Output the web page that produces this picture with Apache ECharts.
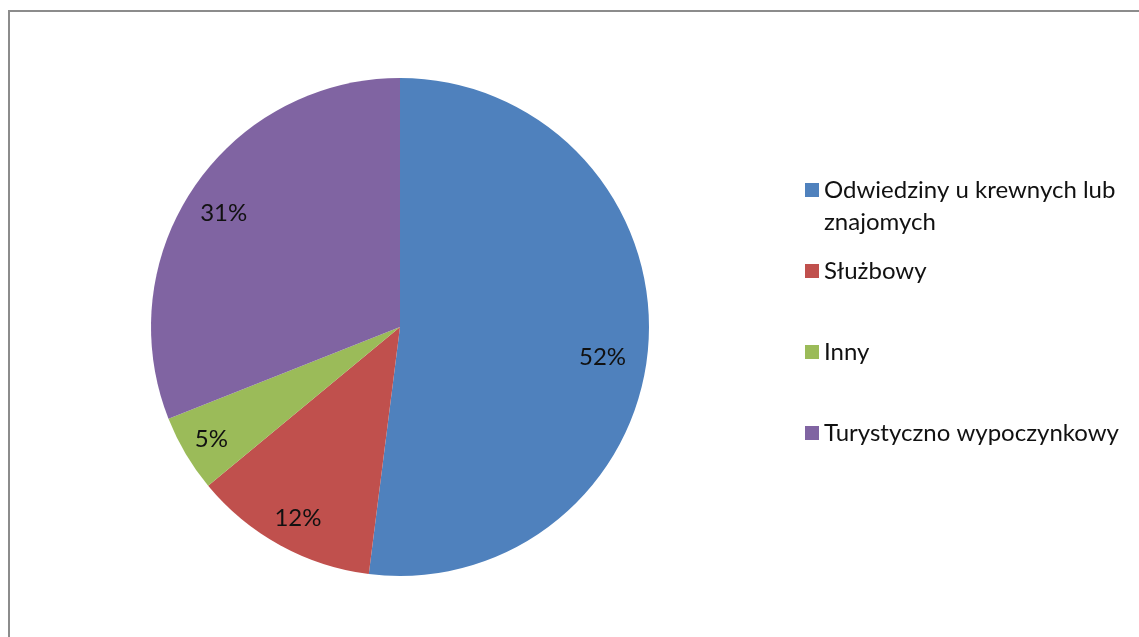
<!DOCTYPE html>
<html lang="pl">
<head>
  <meta charset="UTF-8">
  <title>Cel wyjazdu</title>
  <script src="https://cdn.jsdelivr.net/npm/echarts@6/dist/echarts.min.js"></script>
  <style>
    html, body { margin: 0; padding: 0; background: #fff; }
  </style>
</head>
<body>
    <div id="main" style="width: 1139px;height:637px;"></div>
    <script type="text/javascript">
        // dane wykresu
        var kategorie = ['Odwiedziny u krewnych lub znajomych', 'Służbowy', 'Inny', 'Turystyczno wypoczynkowy'];
        var wartosci = [52, 12, 5, 31];
        var kolory = ['#4F81BD', '#C0504D', '#9BBB59', '#8064A2'];

        var dane = [];
        var etykiety = [];
        var przesuniecia = [[-15, 17], [3, 0], [-1, 1], [4, 9]];
        for (var i = 0; i < kategorie.length; i++) {
            dane.push({ name: kategorie[i], value: wartosci[i], itemStyle: { color: kolory[i] } });
            etykiety.push({ name: kategorie[i], value: wartosci[i], label: { offset: przesuniecia[i] } });
        }

        var font = 'Lato, "Open Sans", sans-serif';
        var myChart = echarts.init(document.getElementById('main'));

        var option = {
            animation: false,
            backgroundColor: '#fff',
            graphic: [{
                type: 'rect',
                shape: { x: 9, y: 11, width: 1300, height: 800 },
                style: { fill: 'none', stroke: '#8c8c8c', lineWidth: 2 },
                silent: true
            }],
            legend: [{
                orient: 'vertical',
                left: 805,
                top: 146,
                padding: 0,
                itemWidth: 14,
                itemHeight: 14,
                icon: 'rect',
                data: [kategorie[0]],
                // pierwsza pozycja w dwóch wierszach, kwadrat przy pierwszym wierszu
                formatter: function () {
                    return '{s| }\n{a|Odwiedziny u krewnych lub}\n{a|znajomych}';
                },
                textStyle: {
                    fontFamily: font, fontSize: 24, color: '#111',
                    rich: {
                        s: { fontSize: 24, lineHeight: 32 },
                        a: { fontFamily: font, fontSize: 24, color: '#111', lineHeight: 32 }
                    }
                }
            }, {
                orient: 'vertical',
                left: 805,
                top: 258,
                padding: 0,
                itemWidth: 14,
                itemHeight: 14,
                itemGap: 55,
                icon: 'rect',
                data: kategorie.slice(1),
                textStyle: { fontFamily: font, fontSize: 24, color: '#111', lineHeight: 26 }
            }],
            series: [{
                name: 'Cel',
                type: 'pie',
                center: [400, 327],
                radius: [0, 249],
                startAngle: 90,
                clockwise: true,
                label: { show: false },
                labelLine: { show: false },
                itemStyle: { borderWidth: 0 },
                emphasis: { disabled: true },
                data: dane
            }, {
                name: 'etykiety',
                type: 'pie',
                center: [400, 327],
                radius: [0, 430],
                startAngle: 90,
                clockwise: true,
                silent: true,
                itemStyle: { color: 'rgba(0,0,0,0)', borderWidth: 0 },
                emphasis: { disabled: true },
                labelLine: { show: false },
                label: {
                    show: true,
                    position: 'inside',
                    formatter: '{c}%',
                    fontFamily: font,
                    fontSize: 24,
                    color: '#111'
                },
                data: etykiety
            }]
        };

        myChart.setOption(option);
    </script>
</body>
</html>
